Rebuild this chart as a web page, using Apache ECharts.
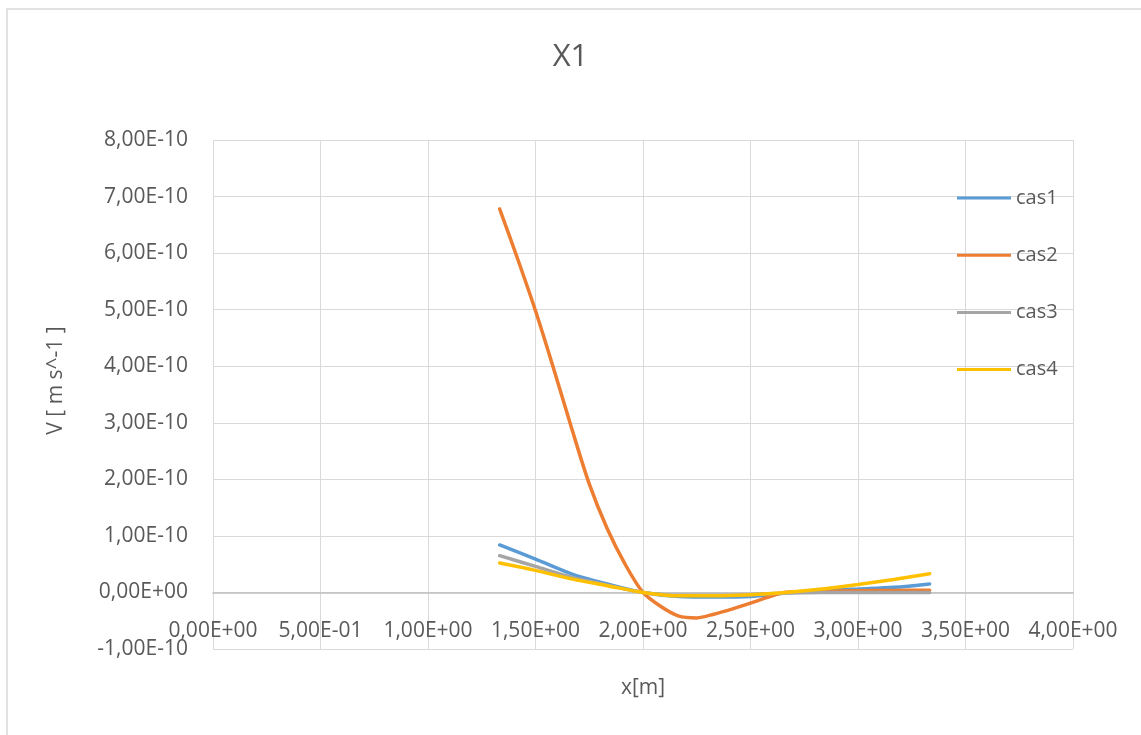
<!DOCTYPE html>
<html>
<head>
<meta charset="utf-8">
<title>X1</title>
<script src="https://cdn.jsdelivr.net/npm/echarts@6/dist/echarts.min.js"></script>
<style>
  html, body { margin: 0; padding: 0; background: #ffffff; }
  #chart { width: 1141px; height: 735px; }
</style>
</head>
<body>
<div id="chart"></div>
<script>
// Position along the section [m]
const xPos = [1.3333, 1.5, 1.6667, 1.8333, 2.0, 2.1667, 2.3333, 2.5, 2.6667, 2.8333, 3.0, 3.1667, 3.3333];
// Finer sampling used for the steep case
const xPosFine = [1.3333, 1.4167, 1.5, 1.5833, 1.6667, 1.75, 1.8333, 1.9167, 2.0, 2.0833, 2.1667, 2.25, 2.3333,
                  2.4167, 2.5, 2.5833, 2.6667, 2.8333, 3.0, 3.1667, 3.3333];

// Velocity V [m s^-1] for each case
const cas1 = [0.84e-10, 0.59e-10, 0.33e-10, 0.15e-10, 0, -0.07e-10, -0.08e-10, -0.07e-10, -0.01e-10, 0.03e-10, 0.06e-10, 0.09e-10, 0.15e-10];
const cas2 = [6.78e-10, 5.90e-10, 4.98e-10, 3.97e-10, 2.92e-10, 1.92e-10, 1.13e-10, 0.50e-10, 0, -0.25e-10, -0.42e-10,
              -0.45e-10, -0.38e-10, -0.29e-10, -0.19e-10, -0.08e-10, 0.005e-10, 0.02e-10, 0.03e-10, 0.035e-10, 0.04e-10];
const cas3 = [0.65e-10, 0.46e-10, 0.27e-10, 0.13e-10, 0, -0.05e-10, -0.05e-10, -0.04e-10, -0.01e-10, 0, 0, 0, 0];
const cas4 = [0.52e-10, 0.39e-10, 0.24e-10, 0.12e-10, 0, -0.06e-10, -0.06e-10, -0.04e-10, 0, 0.06e-10, 0.14e-10, 0.23e-10, 0.33e-10];

const seriesNames = ['cas1', 'cas2', 'cas3', 'cas4'];
const seriesValues = [cas1, cas2, cas3, cas4];
const seriesX = [xPos, xPosFine, xPos, xPos];
const seriesColors = ['#5b9bd5', '#ed7d31', '#a5a5a5', '#ffc000'];

// Spreadsheet-style scientific notation: 8,00E-10
function sci(v) {
  if (Math.abs(v) < 1e-20) v = 0;
  const parts = v.toExponential(2).split('e');
  const mant = parts[0].replace('.', ',');
  const sign = parts[1][0] === '-' ? '-' : '+';
  let digits = parts[1].replace(/[+-]/, '');
  if (digits.length < 2) digits = '0' + digits;
  return mant + 'E' + sign + digits;
}

const FONT = 'Open Sans';
const TEXT = '#595959';

const chart = echarts.init(document.getElementById('chart'), null, { renderer: 'canvas' });

chart.setOption({
  animation: false,
  backgroundColor: '#ffffff',
  textStyle: { fontFamily: FONT },
  graphic: [{
    type: 'rect',
    silent: true,
    shape: { x: 7, y: 9, width: 1150, height: 750 },
    style: { fill: 'none', stroke: '#d9d9d9', lineWidth: 1.5 }
  }],
  title: {
    text: 'X1',
    left: 'center',
    top: 37,
    textStyle: { fontFamily: FONT, fontSize: 31, fontWeight: 'normal', color: TEXT }
  },
  legend: {
    orient: 'vertical',
    left: 952,
    top: 183,
    itemWidth: 54,
    itemHeight: 3,
    itemGap: 37.2,
    icon: 'rect',
    data: seriesNames,
    textStyle: { fontFamily: FONT, fontSize: 20, color: TEXT }
  },
  grid: { left: 213, right: 68, top: 140, bottom: 86, outerBoundsMode: 'none' },
  xAxis: {
    type: 'value',
    min: 0,
    max: 4,
    interval: 0.5,
    name: 'x[m]',
    nameLocation: 'middle',
    nameGap: 29,
    nameTextStyle: { fontFamily: FONT, fontSize: 21, color: TEXT },
    axisLine: { show: true, onZero: true, lineStyle: { color: '#bfbfbf', width: 1.5 } },
    axisTick: { show: false },
    axisLabel: { margin: -28, fontFamily: FONT, fontSize: 21, color: TEXT, formatter: sci },
    splitLine: { show: true, lineStyle: { color: '#d9d9d9', width: 1 } }
  },
  yAxis: {
    type: 'value',
    min: -1e-10,
    max: 8e-10,
    interval: 1e-10,
    name: 'V [ m s^-1 ]',
    nameLocation: 'middle',
    nameGap: 146,
    nameTextStyle: { fontFamily: FONT, fontSize: 21, color: TEXT, padding: [0, 0, 0, 28] },
    axisLine: { show: false },
    axisTick: { show: false },
    axisLabel: { margin: 25, fontFamily: FONT, fontSize: 21, color: TEXT, formatter: sci },
    splitLine: { show: true, lineStyle: { color: '#d9d9d9', width: 1 } }
  },
  series: seriesNames.map((name, i) => ({
    name: name,
    type: 'line',
    smooth: 0.3,
    symbol: 'none',
    data: seriesX[i].map((x, k) => [x, seriesValues[i][k]]),
    lineStyle: { color: seriesColors[i], width: 3.5, cap: 'round' },
    itemStyle: { color: seriesColors[i] }
  }))
});
</script>
</body>
</html>
